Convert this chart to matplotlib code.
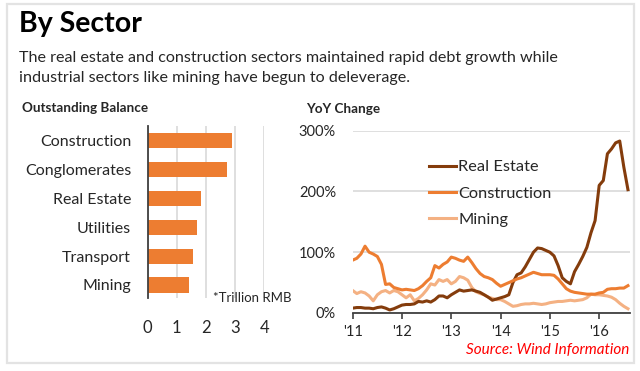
import matplotlib
matplotlib.use("Agg")

import matplotlib.pyplot as plt
import numpy as np
from matplotlib.patches import Rectangle

# --- Data ------------------------------------------------------------------
sectors = ["Construction", "Conglomerates", "Real Estate", "Utilities", "Transport", "Mining"]
balance = [2.88, 2.71, 1.83, 1.69, 1.54, 1.43]   # trillion RMB

# monthly YoY change (%), Jan 2011 .. Aug 2016
real_estate = [8, 9, 9, 8, 8, 7, 9, 10, 8, 5, 7, 10,
               13, 14, 14, 15, 19, 18, 20, 18, 22, 28, 28, 25,
               30, 34, 38, 36, 37, 38, 36, 34, 30, 26, 21, 23,
               25, 27, 30, 50, 63, 66, 76, 88, 100, 107, 106, 103,
               100, 94, 78, 58, 52, 48, 68, 80, 93, 108, 132, 152,
               210, 218, 262, 270, 280, 283, 240, 203]
construction = [87, 90, 97, 110, 100, 97, 93, 80, 47, 48, 42, 40,
                38, 39, 38, 37, 40, 45, 52, 58, 78, 74, 80, 84,
                92, 90, 87, 85, 92, 83, 73, 65, 60, 58, 55, 49,
                44, 47, 50, 53, 56, 58, 61, 64, 67, 65, 63, 63,
                63, 62, 56, 48, 40, 36, 34, 33, 32, 31, 31, 31,
                33, 34, 39, 40, 40, 41, 41, 45]
mining = [37, 32, 35, 33, 28, 20, 30, 35, 37, 33, 37, 35,
          30, 25, 30, 20, 24, 30, 38, 48, 46, 55, 52, 55,
          48, 52, 60, 58, 54, 42, 35, 32, 30, 26, 24, 22,
          22, 19, 15, 11, 12, 14, 15, 15, 16, 15, 14, 15,
          17, 18, 19, 19, 20, 21, 20, 21, 22, 25, 31, 30,
          30, 29, 28, 26, 22, 16, 11, 7]
year_ticks = [2011, 2012, 2013, 2014, 2015, 2016]
year_labels = ["'11", "'12", "'13", "'14", "'15", "'16"]

C_DARK = "#843C0C"
C_MID = "#ED7D31"
C_LIGHT = "#F4B183"
GRID = "#D9D9D9"
TXT = "#262626"

plt.rcParams["font.family"] = ["Lato", "DejaVu Sans"]

W, H = 640, 371
fig = plt.figure(figsize=(W / 100, H / 100), dpi=100)


def fx(px):
    return px / W


def fy(py):
    return 1 - py / H


# outer frame
fig.patches.append(Rectangle((fx(7), fy(363)), fx(627), (363 - 4) / H,
                             transform=fig.transFigure, fill=False,
                             edgecolor="#E3E3E3", lw=1.6))

fig.text(fx(19), fy(24), "By Sector", fontsize=20.5, fontweight="bold",
         color="black", va="center")
fig.text(fx(19), fy(58), "The real estate and construction sectors maintained rapid debt growth while",
         fontsize=11.6, color=TXT, va="center")
fig.text(fx(19), fy(78), "industrial sectors like mining have begun to deleverage.",
         fontsize=11.6, color=TXT, va="center")

# --- Left: outstanding balance bars -----------------------------------------
fig.text(fx(22), fy(108), "Outstanding Balance", fontsize=9.7, fontweight="bold",
         color=TXT, va="center")
ax1 = fig.add_axes([fx(147.7), fy(298), fx(264.3 - 147.7), (298 - 126) / H])
ypos = np.arange(len(sectors))[::-1]
ax1.barh(ypos, balance, height=0.52, color=C_MID, zorder=3)
ax1.set_xlim(0, 4)
ax1.set_ylim(-0.45, 5.5)
ax1.set_xticks([0, 1, 2, 3, 4])
ax1.set_yticks(ypos)
ax1.set_yticklabels(sectors)
ax1.grid(axis="x", color=GRID, lw=1.2, zorder=0)
for s in ["top", "right", "bottom"]:
    ax1.spines[s].set_visible(False)
ax1.spines["left"].set_color("#404040")
ax1.spines["left"].set_linewidth(1.3)
ax1.spines["left"].set_zorder(4)
ax1.tick_params(axis="x", length=0, pad=16, labelsize=12, labelcolor=TXT)
ax1.tick_params(axis="y", length=0, pad=12, labelsize=11.5, labelcolor=TXT)
fig.text(fx(213), fy(298), "*Trillion RMB", fontsize=9.5, color=TXT, va="center")

# --- Right: YoY change lines ---------------------------------------------------
fig.text(fx(306), fy(109), "YoY Change", fontsize=9.7, fontweight="bold",
         color=TXT, va="center")
ax2 = fig.add_axes([fx(352.7), fy(313), fx(630 - 352.7), (313 - 130.7) / H])
t = 2011 + np.arange(len(real_estate)) / 12
ax2.plot(t, real_estate, color=C_DARK, lw=2.2, label="Real Estate", zorder=3)
ax2.plot(t, construction, color=C_MID, lw=2.2, label="Construction", zorder=3)
ax2.plot(t, mining, color=C_LIGHT, lw=2.2, label="Mining", zorder=2)
ax2.set_xlim(2011, 2016 + 7.5 / 12)
ax2.set_ylim(0, 300)
ax2.set_yticks([0, 100, 200, 300])
ax2.set_yticklabels(["0%", "100%", "200%", "300%"])
ax2.set_xticks(year_ticks)
ax2.set_xticklabels(year_labels)
ax2.grid(axis="y", color=GRID, lw=1.2, zorder=0)
for s in ["top", "right", "left"]:
    ax2.spines[s].set_visible(False)
ax2.spines["bottom"].set_color("#404040")
ax2.spines["bottom"].set_linewidth(1.3)
ax2.tick_params(axis="y", length=0, pad=12, labelsize=10.5, labelcolor=TXT)
ax2.tick_params(axis="x", length=4, width=1.2, color="#404040", pad=5,
                labelsize=10.5, labelcolor=TXT)
leg = ax2.legend(loc="upper left", frameon=False,
                 bbox_to_anchor=((429 - 352.7) / (630 - 352.7), (313 - 160) / (313 - 130.7)),
                 bbox_transform=ax2.transAxes,
                 fontsize=11.8, handlelength=1.65, handletextpad=0.15,
                 labelspacing=0.72, borderaxespad=0, borderpad=0)
for txt in leg.get_texts():
    txt.set_color(TXT)

fig.text(fx(629), fy(350), "Source: Wind Information", fontsize=11, color="#FF0000",
         style="italic", ha="right", va="center")

fig.savefig("out.png", dpi=100)
